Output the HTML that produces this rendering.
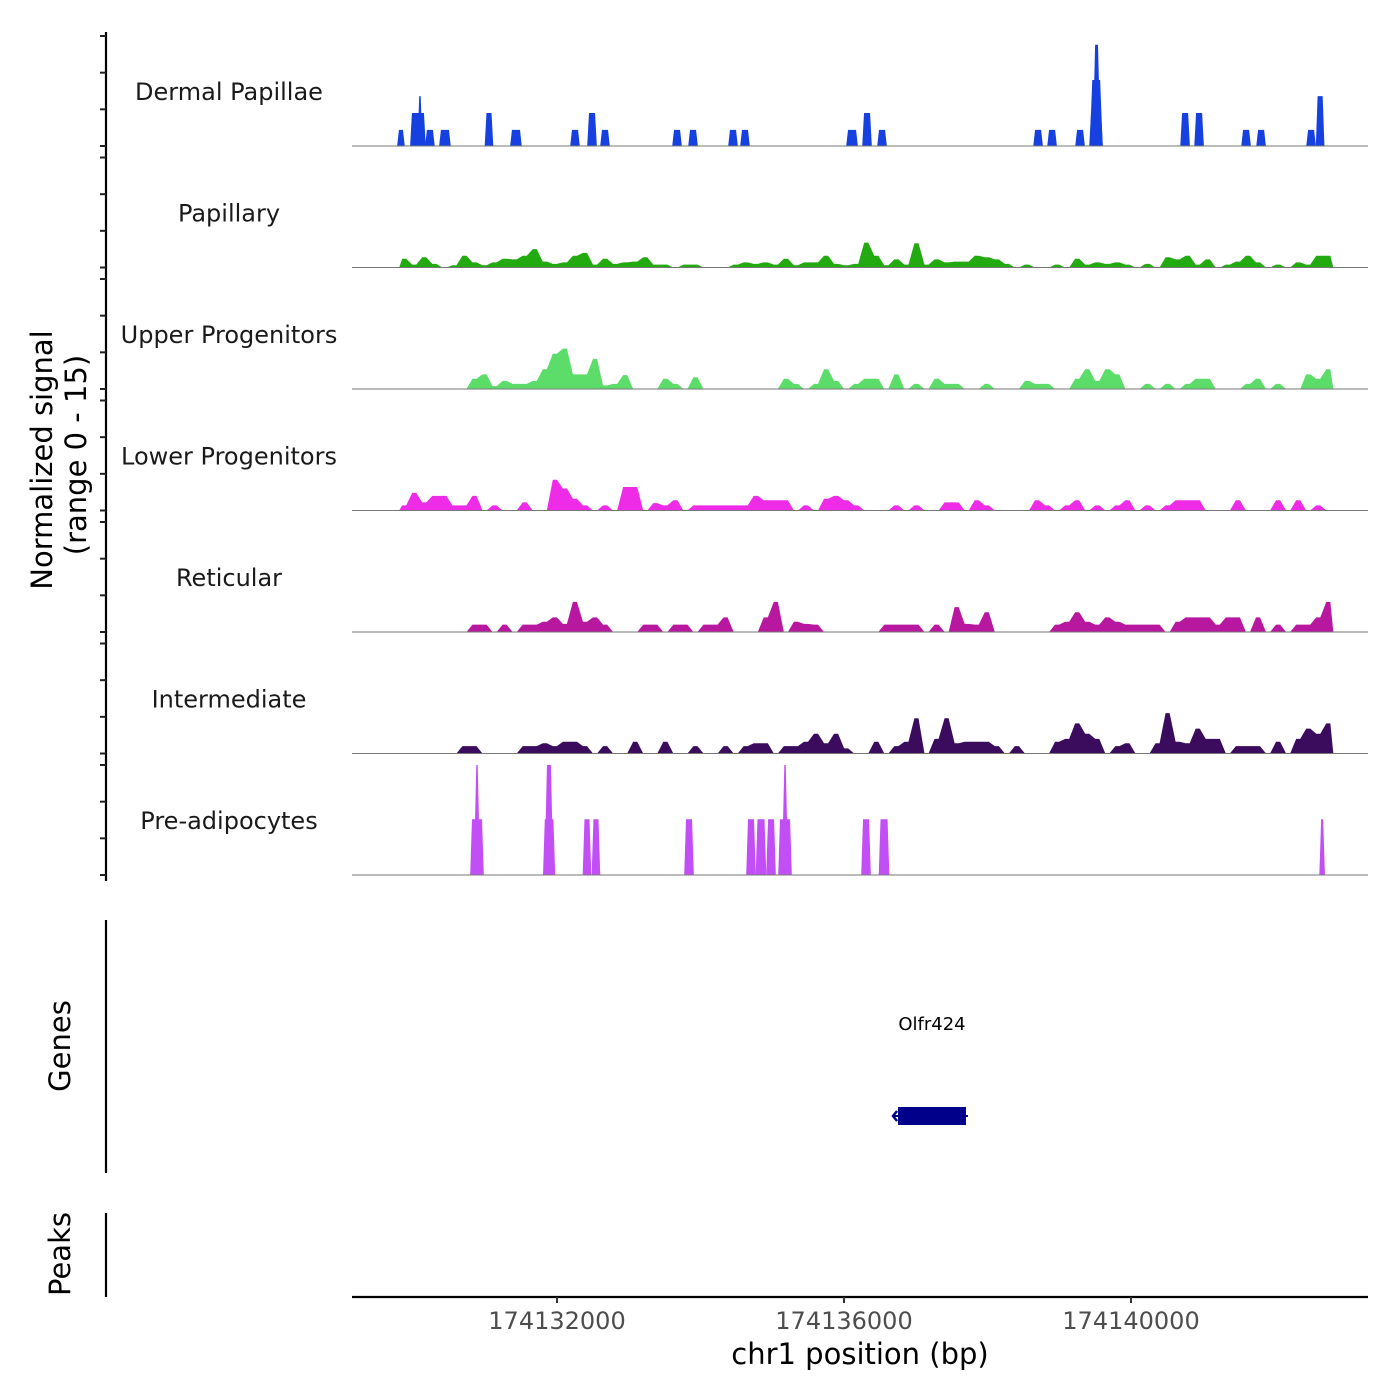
<!DOCTYPE html>
<html><head><meta charset="utf-8"><style>
html,body{margin:0;padding:0;background:#fff}
svg{display:block;font-family:"DejaVu Sans","Liberation Sans",sans-serif}
</style></head><body>
<svg id="chart" width="1400" height="1400" viewBox="0 0 1400 1400" xmlns="http://www.w3.org/2000/svg">
<rect width="1400" height="1400" fill="#fff"/>
<g id="tracks"></g>
<g id="yaxis"></g>
<text transform="translate(52,460) rotate(-90)" text-anchor="middle" font-size="29" fill="#000">Normalized signal</text>
<text transform="translate(86,455) rotate(-90)" text-anchor="middle" font-size="29" fill="#000">(range 0 - 15)</text>
<line x1="106" y1="920" x2="106" y2="1173" stroke="#000" stroke-width="2.2"/>
<text transform="translate(70,1046) rotate(-90)" text-anchor="middle" font-size="29">Genes</text>
<line x1="106" y1="1213" x2="106" y2="1297" stroke="#000" stroke-width="2.2"/>
<text transform="translate(70,1254) rotate(-90)" text-anchor="middle" font-size="29">Peaks</text>
<g id="genes"></g>
<g id="xaxis"></g>
<text x="860" y="1364" text-anchor="middle" font-size="29">chr1 position (bp)</text>
</svg>
<script>
const trackNames = ["Dermal Papillae","Papillary","Upper Progenitors","Lower Progenitors","Reticular","Intermediate","Pre-adipocytes"];
const trackColors = ["#1640e0","#22aa10","#5cdc68","#ee2be6","#b8189f","#3b0c5e","#c24ff5"];
const xTicks = [174132000,174136000,174140000];
const xTickLabels = ["174132000","174136000","174140000"];
const yTickValues = [0,5,10,15];
const binStart = 174129800;
const binWidth = 140;
// peak-style tracks: start bp, end bp, value
const dermalStart = [174129797,174129978,174130080,174130187,174130382,174131017,174131372,174132209,174132446,174132627,174133631,174133854,174134411,174134578,174136056,174136279,174136488,174138663,174138858,174139248,174139443,174139460,174139500,174140712,174140907,174141562,174141771,174142468,174142601];
const dermalEnd   = [174129853,174130146,174130100,174130271,174130494,174131087,174131484,174132293,174132530,174132711,174133715,174133938,174134495,174134662,174136168,174136363,174136572,174138747,174138942,174139332,174139583,174139570,174139540,174140796,174140991,174141646,174141855,174142552,174142671];
const dermalVal   = [2.2,4.5,6.8,2.2,2.2,4.5,2.2,2.2,4.5,2.2,2.2,2.2,2.2,2.2,2.2,4.5,2.2,2.2,2.2,2.2,4.5,9,13.8,4.5,4.5,2.2,2.2,2.2,6.8];
const preadStart = [174130815,174130875,174131830,174131860,174132383,174132508,174133798,174134662,174134794,174134941,174135108,174135168,174136265,174136509,174142650];
const preadEnd   = [174130955,174130895,174131950,174131915,174132453,174132578,174133882,174134746,174134892,174135025,174135248,174135188,174136349,174136607,174142678];
const preadVal   = [7.6,15,7.6,15,7.6,7.6,7.6,7.6,7.6,7.6,7.6,15,7.6,7.6,7.6];
// binned tracks
const papillaryBins = [1.2,0.4,1.4,0.5,0,0.3,1.6,0.7,0.3,0.7,1.2,1.1,1.6,2.5,0.8,0.5,0.7,1.6,2,0.4,1.2,0.5,0.7,0.8,1.4,0.4,0.4,0,0.4,0.4,0,0,0,0.4,0.7,0.5,0.7,0.4,1.2,0.3,0.7,0.7,1.6,0.5,0.3,0.5,3.4,1.6,0.3,1.1,0.4,3.3,0.4,1.1,0.7,0.8,0.8,1.6,1.4,1.1,0.5,0,0.4,0,0,0.4,0,1.2,0.4,0.7,0.5,0.7,0.4,0,0.5,0,1.4,1.1,1.6,0.4,1.1,0,0.4,0.8,1.6,0.7,0,0.4,0,0.7,0.4,1.6,1.6];
const upperBins = [0,0,0,0,0,0,0,1.4,2,0.4,1.1,0.7,0.7,1.1,2.7,4.8,5.5,2,2,4.1,0.5,0.7,1.9,0,0,0,1.4,0.7,0,1.6,0,0,0,0,0,0,0,0,1.4,0.7,0,0.7,2.7,1.1,0,0.7,1.4,1.4,0,2,0,0.7,0,1.4,0.7,0.7,0,0,0.7,0,0,0,1.1,0.7,0.7,0,0,1.4,2.7,1.1,2.7,2,0,0,0.7,0,0.7,0,0.7,1.4,1.4,0,0,0,0.7,1.4,0,0.7,0,0,2,1.4,2.7];
const lowerBins = [0.7,2.4,1.1,2,2,0.7,0.7,2,0,0.7,0,0,1.1,0,0,4.2,3,1.6,0.7,0,0.7,0,3.2,3.2,0,1,0.7,1.4,0,0.7,0.7,0.7,0.7,0.7,0.7,2,1.4,1.4,1.4,0,0.7,0,1.6,2,1.4,0.7,0,0,0,0.7,0,0.7,0,0,1.1,1.1,0,1.4,0.7,0,0,0,0,1.4,0.7,0,0.7,1.4,0,0.7,0,0.7,1.4,0,0.7,0,0.7,1.4,1.4,1.4,0,0,0,1.4,0,0,0,1.4,0,1.4,0,0.7,0];
const reticularBins = [0,0,0,0,0,0,0,1,1,0,1,0,1,1,1.4,2,1.1,4.1,1.4,2,1,0,0,0,1,1,0,1,1,0,1,1,2,0,0,0,2,4.1,0,1.4,1.1,1,0,0,0,0,0,0,1,1,1,1,0,1,0,3.4,1.1,1,2.7,0,0,0,0,0,0,1,1.4,2.7,1.4,1,2,1.4,1,1,1,1,0,1.4,2,2,2,1,2,2,0,2,0,1,0,1,1,2,4.1];
const intermediateBins = [0,0,0,0,0,0,1,1,0,0,0,0,1,1,1.4,1,1.6,1.6,1,0,1,0,0,1.6,0,0,1.6,0,0,1,0,0,1,0,1,1.4,1.4,0,1,1,1.6,2.7,1.4,2.7,0.7,0,0,1.6,0,1,1.6,4.8,0,2,4.8,1.4,1.6,1.6,1.6,1,0,1,0,0,0,1.6,2,4.1,2.7,2,0,1,1.4,0,0,1.4,5.5,1.6,1.4,3.4,2,2,0,1,1,1,0,1.6,0,2,3.4,2.7,4.1];
const geneName = "Olfr424";
const geneStart = 174136753;
const geneEnd = 174137700;

const NS="http://www.w3.org/2000/svg";
function mk(tag, attrs, parent){const e=document.createElementNS(NS,tag);for(const k in attrs)e.setAttribute(k,attrs[k]);parent.appendChild(e);return e;}
const X0=352, X1=1368;
function xScale(bp){return 557 + (bp-174132000)*0.07175;}
const unitPx = 110/15;
function baseY(k){return 146 + k*121.5;}
function yScale(k,v){return baseY(k) - v*unitPx;}

const tracksG=document.getElementById('tracks');
const binTracks={1:papillaryBins,2:upperBins,3:lowerBins,4:reticularBins,5:intermediateBins};

for(let k=0;k<7;k++){
  const g=mk('g',{},tracksG);
  
  
  const col=trackColors[k];
  if(k===0||k===6){
    const s=k===0?dermalStart:preadStart, e=k===0?dermalEnd:preadEnd, v=k===0?dermalVal:preadVal;
    for(let i=0;i<s.length;i++){
      const xa=xScale(s[i]), xb=xScale(e[i]), y=yScale(k,v[i]), b=baseY(k);
      const sp=v[i]>=9?2.5:1.8;
      const p=mk('polygon',{points:`${xa-sp},${b} ${xa},${y} ${xb},${y} ${xb+sp},${b}`,fill:col},g);
      
      
    }
  } else {
    const bins=binTracks[k]; const b=baseY(k);
    let pts=[];
    for(let i=0;i<bins.length;i++){
      const xa=xScale(binStart+i*binWidth), xb=xScale(binStart+(i+1)*binWidth);
      const y=yScale(k,bins[i]);
      pts.push(`${xa+3},${y}`, `${xb-3},${y}`);
    }
    const xs=xScale(binStart), xe=xScale(binStart+bins.length*binWidth);
    const p=mk('polygon',{points:`${xs},${b} ${pts.join(' ')} ${xe},${b}`,fill:col},g);
    
    
  }
  const bl=mk('line',{x1:X0,x2:X1,y1:baseY(k),y2:baseY(k),stroke:'#777','stroke-width':1},g);
  
  
  const t=mk('text',{x:229,y:baseY(k)-46,'text-anchor':'middle','font-size':24,fill:'#1a1a1a'},g);
  
  
  t.textContent=trackNames[k];
}

const ya=document.getElementById('yaxis');
const al=mk('line',{x1:106,x2:106,y1:32,y2:881,stroke:'#000','stroke-width':2.2},ya);


for(let k=0;k<7;k++){
  for(const tv of yTickValues){
    const y=yScale(k,tv);
    const tk=mk('line',{x1:100,x2:106,y1:y,y2:y,stroke:'#222','stroke-width':2},ya);
    
    
  }
}

const gg=document.getElementById('genes');
const gx1=xScale(geneStart), gx2=xScale(geneEnd);
const gr=mk('rect',{x:gx1,y:1107,width:gx2-gx1,height:18,fill:'#00008b'},gg);


const gl=mk('line',{x1:gx1-5,x2:gx2+2,y1:1116,y2:1116,stroke:'#00008b','stroke-width':2},gg);


const ch=mk('polyline',{points:`${gx1-1},1111 ${gx1-5},1116 ${gx1-1},1121`,fill:'none',stroke:'#00008b','stroke-width':2.5},gg);


const gt=mk('text',{x:(gx1+gx2)/2,y:1030,'text-anchor':'middle','font-size':18,fill:'#000'},gg);


gt.textContent=geneName;

const xa=document.getElementById('xaxis');
const xl=mk('line',{x1:X0,x2:X1,y1:1297,y2:1297,stroke:'#000','stroke-width':2.2},xa);


for(let i=0;i<xTicks.length;i++){
  const x=xScale(xTicks[i]);
  const tk=mk('line',{x1:x,x2:x,y1:1297,y2:1303,stroke:'#333','stroke-width':2},xa);
  
  
  const tl=mk('text',{x:x,y:1329,'text-anchor':'middle','font-size':24,fill:'#4d4d4d'},xa);
  
  
  tl.textContent=xTickLabels[i];
}
</script>
</body></html>
